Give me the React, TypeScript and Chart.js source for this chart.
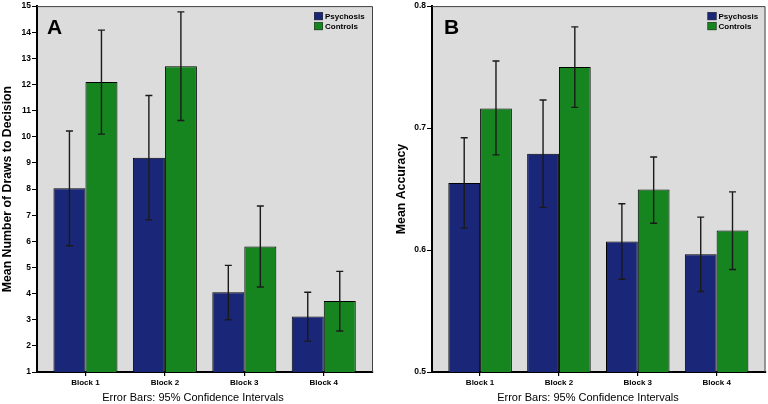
import React, { useEffect, useRef } from "react";
import { Chart, registerables } from "chart.js";

Chart.register(...registerables);

const categories = ["Block 1", "Block 2", "Block 3", "Block 4"];
const seriesNames = ["Psychosis", "Controls"];

// Panel A: Mean number of draws to decision
const drawsPsychosis = [8.03, 9.2, 4.05, 3.12];
const drawsPsychosisLo = [5.83, 6.82, 3.0, 2.18];
const drawsPsychosisHi = [10.22, 11.58, 5.08, 4.05];
const drawsControls = [12.1, 12.7, 5.8, 3.72];
const drawsControlsLo = [10.1, 10.62, 4.25, 2.57];
const drawsControlsHi = [14.08, 14.78, 7.35, 4.85];

// Panel B: Mean accuracy
const accPsychosis = [0.655, 0.679, 0.607, 0.5965];
const accPsychosisLo = [0.618, 0.635, 0.576, 0.566];
const accPsychosisHi = [0.692, 0.723, 0.638, 0.627];
const accControls = [0.716, 0.75, 0.6496, 0.616];
const accControlsLo = [0.678, 0.717, 0.622, 0.584];
const accControlsHi = [0.755, 0.783, 0.6763, 0.6477];

const COLORS = ["#1a2778", "#168520"];
const FONT = "'Liberation Sans', Arial, sans-serif";

const framePlugin = {
  id: "frame",
  beforeDraw(chart: any) {
    const { ctx, chartArea: a } = chart;
    ctx.save();
    ctx.fillStyle = "#dcdcdc";
    ctx.fillRect(a.left, a.top, a.right - a.left, a.bottom - a.top);
    ctx.restore();
  },
  afterDatasetsDraw(chart: any) {
    const { ctx } = chart;
    const y = chart.scales.y;
    ctx.save();
    ctx.strokeStyle = "#1a1a1a";
    ctx.lineWidth = 1.4;
    chart.data.datasets.forEach((ds: any, di: number) => {
      const meta = chart.getDatasetMeta(di);
      meta.data.forEach((bar: any, i: number) => {
        const x = bar.x;
        const yh = y.getPixelForValue(ds.hi[i]);
        const yl = y.getPixelForValue(ds.lo[i]);
        ctx.beginPath();
        ctx.moveTo(x, yh);
        ctx.lineTo(x, yl);
        ctx.moveTo(x - 3.5, yh);
        ctx.lineTo(x + 3.5, yh);
        ctx.moveTo(x - 3.5, yl);
        ctx.lineTo(x + 3.5, yl);
        ctx.stroke();
      });
    });
    ctx.restore();
  },
  afterDraw(chart: any) {
    const { ctx, chartArea: a } = chart;
    const o = chart.options.plugins.frame;
    ctx.save();
    ctx.strokeStyle = "#444";
    ctx.lineWidth = 1;
    ctx.beginPath();
    ctx.moveTo(a.left, a.top + 0.5);
    ctx.lineTo(a.right - 0.5, a.top + 0.5);
    ctx.lineTo(a.right - 0.5, a.bottom);
    ctx.stroke();
    ctx.fillStyle = "#000";
    ctx.font = `bold 21px ${FONT}`;
    ctx.textBaseline = "alphabetic";
    ctx.textAlign = "left";
    ctx.fillText(o.letter, a.left + o.letterDx, a.top + 28);
    ctx.font = `bold 8px ${FONT}`;
    ctx.textBaseline = "middle";
    chart.data.datasets.forEach((ds: any, i: number) => {
      const sx = a.right - o.legendDx;
      const sy = a.top + 6 + i * 10;
      ctx.fillStyle = ds.backgroundColor;
      ctx.fillRect(sx, sy, 9, 8);
      ctx.strokeStyle = "#333";
      ctx.lineWidth = 0.6;
      ctx.strokeRect(sx + 0.3, sy + 0.3, 8.4, 7.4);
      ctx.fillStyle = "#000";
      ctx.fillText(ds.label, sx + 11, sy + 4.5);
    });
    ctx.font = `11px ${FONT}`;
    ctx.textAlign = "center";
    ctx.textBaseline = "middle";
    ctx.fillText("Error Bars: 95% Confidence Intervals", a.left + 156, 398);
    ctx.restore();
  },
};

function makeConfig(p: any) {
  return {
    type: "bar",
    data: {
      datasets: [
        {
          label: seriesNames[0],
          data: p.v0.map((v: number, i: number) => ({ x: i, y: v })),
          lo: p.lo0,
          hi: p.hi0,
          backgroundColor: COLORS[0],
          borderColor: "#000",
          borderWidth: 1,
        },
        {
          label: seriesNames[1],
          data: p.v1.map((v: number, i: number) => ({ x: i, y: v })),
          lo: p.lo1,
          hi: p.hi1,
          backgroundColor: COLORS[1],
          borderColor: "#000",
          borderWidth: 1,
        },
      ],
    },
    options: {
      animation: false,
      responsive: false,
      maintainAspectRatio: false,
      devicePixelRatio: 1,
      categoryPercentage: 0.806,
      barPercentage: 1,
      layout: { padding: { left: 0, top: p.padTop, right: p.padRight, bottom: 0 } },
      plugins: {
        legend: { display: false },
        tooltip: { enabled: false },
        frame: { letter: p.letter, letterDx: p.letterDx, legendDx: p.legendDx },
      },
      scales: {
        x: {
          type: "linear",
          offset: false,
          bounds: "data",
          min: -0.61,
          max: 3.62,
          afterBuildTicks: (s: any) => {
            s.ticks = categories.map((_, i) => ({ value: i }));
          },
          afterFit: (s: any) => {
            s.height = 32;
          },
          ticks: {
            autoSkip: false,
            maxRotation: 0,
            padding: 2,
            color: "#000",
            font: { family: FONT, size: 8, weight: "bold" },
            callback: (v: number) => categories[v] ?? "",
          },
          grid: {
            offset: false,
            drawOnChartArea: false,
            drawTicks: true,
            tickLength: 4,
            color: "#000",
            lineWidth: 1.2,
          },
          border: { color: "#000", width: 2 },
        },
        y: {
          type: "linear",
          min: p.yMin,
          max: p.yMax,
          afterFit: (s: any) => {
            s.width = p.yWidth;
          },
          ticks: {
            stepSize: p.step,
            padding: 1,
            color: "#000",
            font: { family: FONT, size: 8.5, weight: "bold" },
            callback: p.fmt,
          },
          grid: { drawOnChartArea: false, drawTicks: true, tickLength: 5, color: "#000", lineWidth: 1 },
          border: { color: "#000", width: 2 },
          title: {
            display: true,
            text: p.yTitle,
            color: "#000",
            font: { family: FONT, size: 12.3, weight: "bold" },
            padding: { top: p.titlePad, bottom: 0 },
          },
        },
      },
    },
    plugins: [framePlugin],
  };
}

const panelA = {
  letter: "A",
  letterDx: 10,
  legendDx: 59,
  v0: drawsPsychosis,
  lo0: drawsPsychosisLo,
  hi0: drawsPsychosisHi,
  v1: drawsControls,
  lo1: drawsControlsLo,
  hi1: drawsControlsHi,
  yMin: 1,
  yMax: 15,
  step: 1,
  fmt: (v: number) => String(v),
  yTitle: "Mean Number of Draws to Decision",
  yWidth: 37,
  titlePad: 0,
  padTop: 5,
  padRight: 11,
};

const panelB = {
  letter: "B",
  letterDx: 12,
  legendDx: 58,
  v0: accPsychosis,
  lo0: accPsychosisLo,
  hi0: accPsychosisHi,
  v1: accControls,
  lo1: accControlsLo,
  hi1: accControlsHi,
  yMin: 0.5,
  yMax: 0.8,
  step: 0.1,
  fmt: (v: number) => (Math.round(v * 10) / 10).toFixed(1),
  yTitle: "Mean Accuracy",
  yWidth: 48,
  titlePad: 10,
  padTop: 4.5,
  padRight: 2.5,
};

function Panel({ cfg, left }: { cfg: any; left: number }) {
  const ref = useRef<HTMLCanvasElement>(null);
  useEffect(() => {
    const chart = new Chart(ref.current as HTMLCanvasElement, makeConfig(cfg) as any);
    return () => chart.destroy();
  }, [cfg]);
  return (
    <canvas
      ref={ref}
      width={384}
      height={404}
      style={{ position: "absolute", left, top: 0, width: 384, height: 404 }}
    />
  );
}

export default function App() {
  return (
    <div style={{ position: "fixed", left: 0, top: 0, width: 768, height: 404, background: "#fff" }}>
      <Panel cfg={panelA} left={0} />
      <Panel cfg={panelB} left={384} />
    </div>
  );
}
